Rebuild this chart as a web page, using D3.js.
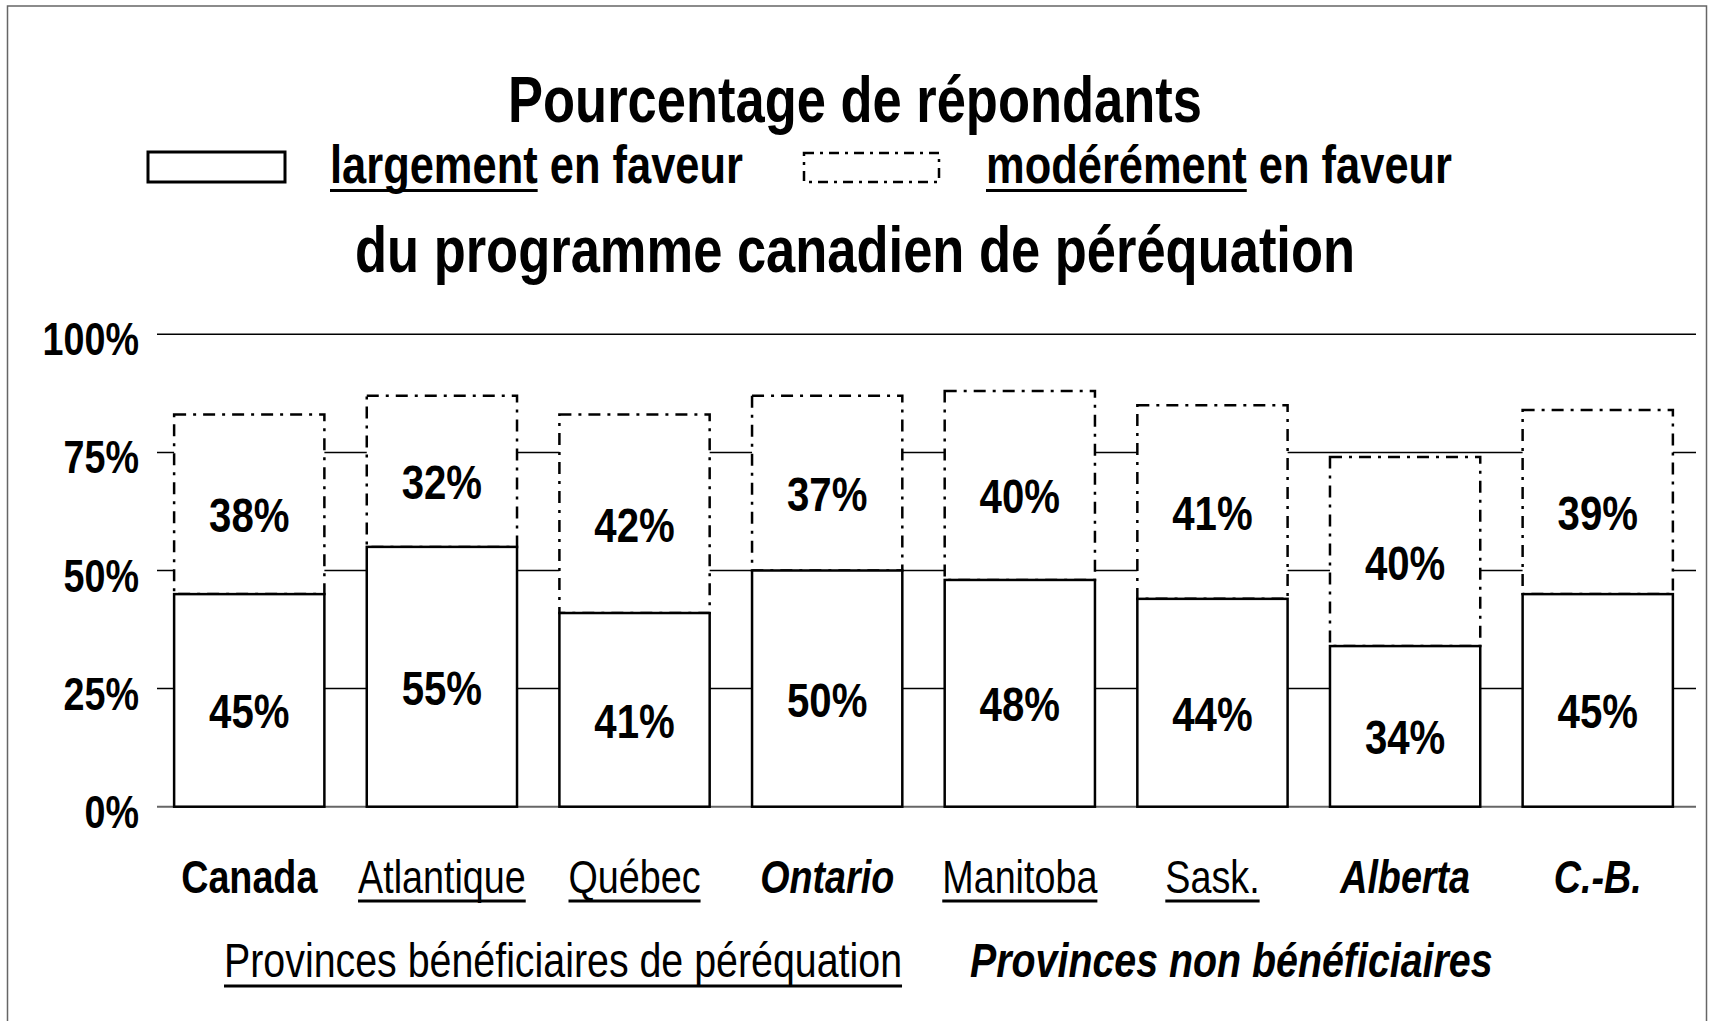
<!DOCTYPE html>
<html lang="fr">
<head>
  <meta charset="UTF-8">
  <title>péréquation</title>
  <style>
    body { margin: 0; background: #fff; overflow: hidden; }
    svg text { font-family: "Liberation Sans", Arial, sans-serif; fill: #000; }
  </style>
</head>
<body>
  <div class="chart"></div>
  <script src="https://cdnjs.cloudflare.com/ajax/libs/d3/7.8.5/d3.min.js"></script>
  <script>
    const categories = ["Canada", "Atlantique", "Québec", "Ontario", "Manitoba", "Sask.", "Alberta", "C.-B."];
    const groups = ["national", "benef", "benef", "nonbenef", "benef", "benef", "nonbenef", "nonbenef"];
    const largement = [45, 55, 41, 50, 48, 44, 34, 45];
    const modere = [38, 32, 42, 37, 40, 41, 40, 39];
    const yTicks = [0, 25, 50, 75, 100];

    const width = 1709, height = 1021;
    const dashStyle = "12,7,3,7";
    const narrow = 0.82; // no Arial Narrow here, so squeeze Liberation Sans

    const svg = d3.select('.chart')
      .append('svg')
      .attr('width', width)
      .attr('height', height);

    // put a text at (x, y) squeezed horizontally
    const place = (sel, fx, fy) =>
      sel.attr('transform', (d, i) => `translate(${fx(d, i)},${fy(d, i)}) scale(${narrow},1)`);

    // outer frame
    svg.append('rect')
      .attr('x', 7.5).attr('y', 6)
      .attr('width', 1699).attr('height', 1100)
      .attr('fill', 'none')
      .attr('stroke', '#666')
      .attr('stroke-width', 1.5);

    const x = d3.scaleBand()
      .domain(categories)
      .range([151, 1696])
      .paddingInner(0.22)
      .paddingOuter(0.12);

    const y = d3.scaleLinear()
      .domain([0, 100])
      .range([806.7, 334.3]);

    // gridlines
    svg.selectAll('.grid')
      .data(yTicks)
      .enter().append('line')
      .attr('x1', 157).attr('x2', 1696)
      .attr('y1', d => y(d)).attr('y2', d => y(d))
      .attr('stroke', d => d === 0 ? '#666' : '#000')
      .attr('stroke-width', d => d === 0 ? 2 : 1.5);

    svg.selectAll('.ylab')
      .data(yTicks)
      .enter().append('text')
      .call(place, () => 139, d => y(d) + 21)
      .attr('text-anchor', 'end')
      .attr('font-size', 46)
      .attr('font-weight', 'bold')
      .text(d => d + '%');

    // moderately in favour (dashed, stacked on top)
    svg.selectAll('.mod')
      .data(categories)
      .enter().append('rect')
      .attr('x', d => x(d))
      .attr('width', x.bandwidth())
      .attr('y', (d, i) => y(largement[i] + modere[i]))
      .attr('height', (d, i) => y(largement[i]) - y(largement[i] + modere[i]))
      .attr('fill', '#fff')
      .attr('stroke', '#000')
      .attr('stroke-width', 2.5)
      .attr('stroke-dasharray', dashStyle);

    // largely in favour (solid)
    svg.selectAll('.larg')
      .data(categories)
      .enter().append('rect')
      .attr('x', d => x(d))
      .attr('width', x.bandwidth())
      .attr('y', (d, i) => y(largement[i]))
      .attr('height', (d, i) => y(0) - y(largement[i]))
      .attr('fill', '#fff')
      .attr('stroke', '#000')
      .attr('stroke-width', 2.5);

    const valueLabel = (vals, base) => svg.selectAll(null)
      .data(categories)
      .enter().append('text')
      .call(place,
        d => x(d) + x.bandwidth() / 2,
        (d, i) => (y(base(i)) + y(base(i) + vals[i])) / 2 + 28)
      .attr('text-anchor', 'middle')
      .attr('font-size', 49)
      .attr('font-weight', 'bold')
      .text((d, i) => vals[i] + '%');

    valueLabel(largement, () => 0);
    valueLabel(modere, i => largement[i]);

    // category labels
    const catLabels = svg.selectAll('.cat')
      .data(categories)
      .enter().append('text')
      .call(place, d => x(d) + x.bandwidth() / 2, () => 893)
      .attr('text-anchor', 'middle')
      .attr('font-size', 46)
      .attr('font-weight', (d, i) => groups[i] === 'benef' ? 'normal' : 'bold')
      .attr('font-style', (d, i) => groups[i] === 'nonbenef' ? 'italic' : 'normal')
      .text(d => d);

    catLabels.each(function (d, i) {
      if (groups[i] !== 'benef') return;
      const w = this.getComputedTextLength() * narrow;
      const cx = x(d) + x.bandwidth() / 2;
      svg.append('line')
        .attr('x1', cx - w / 2).attr('x2', cx + w / 2)
        .attr('y1', 901).attr('y2', 901)
        .attr('stroke', '#000').attr('stroke-width', 3);
    });

    // text with underlined first word
    function underlinedText(x0, yb, word, rest, size, weight, style, gap) {
      const t1 = svg.append('text')
        .call(place, () => x0, () => yb)
        .attr('font-size', size).attr('font-weight', weight).attr('font-style', style)
        .text(word);
      const w = t1.node().getComputedTextLength() * narrow;
      svg.append('line')
        .attr('x1', x0).attr('x2', x0 + w)
        .attr('y1', yb + gap).attr('y2', yb + gap)
        .attr('stroke', '#000').attr('stroke-width', 3);
      if (rest) {
        svg.append('text')
          .call(place, () => x0 + w, () => yb)
          .attr('font-size', size).attr('font-weight', weight).attr('font-style', style)
          .attr('xml:space', 'preserve')
          .text(rest);
      }
    }

    // titles
    svg.append('text')
      .call(place, () => 855, () => 122)
      .attr('text-anchor', 'middle')
      .attr('font-size', 64).attr('font-weight', 'bold')
      .text('Pourcentage de répondants');

    svg.append('text')
      .call(place, () => 855, () => 272)
      .attr('text-anchor', 'middle')
      .attr('font-size', 64).attr('font-weight', 'bold')
      .text('du programme canadien de péréquation');

    // legend
    svg.append('rect')
      .attr('x', 148).attr('y', 152)
      .attr('width', 137).attr('height', 30)
      .attr('fill', '#fff').attr('stroke', '#000').attr('stroke-width', 3);
    underlinedText(330, 183, 'largement', ' en faveur', 53, 'bold', 'normal', 7.5);

    svg.append('rect')
      .attr('x', 804).attr('y', 153)
      .attr('width', 135).attr('height', 29)
      .attr('fill', '#fff').attr('stroke', '#000').attr('stroke-width', 2.5)
      .attr('stroke-dasharray', "10,6,3,6");
    underlinedText(986, 183, 'modérément', ' en faveur', 53, 'bold', 'normal', 7.5);

    // bottom group labels
    underlinedText(224, 977, 'Provinces bénéficiaires de péréquation', null, 48, 'normal', 'normal', 9);
    svg.append('text')
      .call(place, () => 970, () => 977)
      .attr('font-size', 48).attr('font-weight', 'bold').attr('font-style', 'italic')
      .text('Provinces non bénéficiaires');
  </script>
</body>
</html>
